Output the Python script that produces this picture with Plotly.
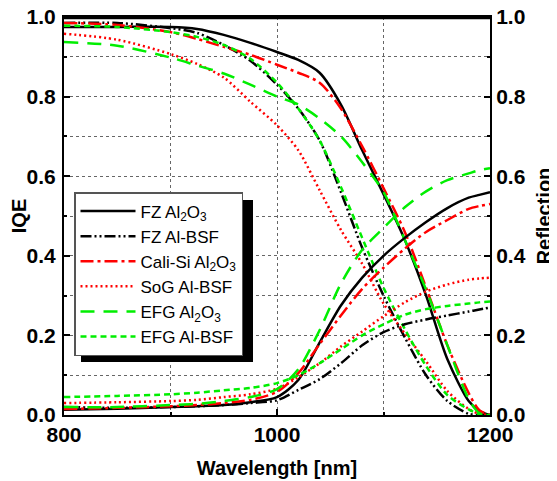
import plotly.graph_objects as go

# ---------------- data ----------------
wavelength = [800, 850, 900, 925, 950, 975, 1000, 1020, 1040, 1060, 1080,
              1100, 1120, 1140, 1160, 1180, 1190, 1200]

# IQE (left axis)
iqe_fz_al2o3 = [0.975, 0.975, 0.975, 0.970, 0.955, 0.935, 0.912, 0.892, 0.860,
                0.780, 0.665, 0.555, 0.440, 0.300, 0.140, 0.035, 0.010, 0.000]
iqe_fz_albsf = [0.985, 0.985, 0.972, 0.960, 0.930, 0.890, 0.830, 0.770, 0.690,
                0.560, 0.420, 0.300, 0.195, 0.100, 0.035, 0.003, 0.000, 0.000]
iqe_cali_al2o3 = [0.985, 0.980, 0.962, 0.945, 0.925, 0.905, 0.880, 0.860, 0.835,
                  0.770, 0.675, 0.570, 0.460, 0.320, 0.175, 0.055, 0.012, 0.000]
iqe_sog_albsf = [0.958, 0.943, 0.907, 0.882, 0.848, 0.787, 0.728, 0.665, 0.565,
                 0.465, 0.380, 0.280, 0.205, 0.135, 0.060, 0.015, 0.003, 0.000]
iqe_efg_al2o3 = [0.937, 0.928, 0.898, 0.878, 0.858, 0.830, 0.800, 0.780, 0.745,
                 0.700, 0.635, 0.560, 0.440, 0.315, 0.175, 0.040, 0.005, 0.000]
iqe_efg_albsf = [0.978, 0.975, 0.962, 0.950, 0.930, 0.895, 0.835, 0.770, 0.690,
                 0.573, 0.445, 0.320, 0.216, 0.123, 0.050, 0.014, 0.002, 0.000]

# Reflection (right axis)
r_fz_al2o3 = [0.013, 0.016, 0.020, 0.022, 0.025, 0.032, 0.045, 0.088, 0.182,
              0.275, 0.345, 0.400, 0.445, 0.485, 0.520, 0.546, 0.553, 0.560]
r_fz_albsf = [0.020, 0.018, 0.020, 0.022, 0.025, 0.030, 0.037, 0.063, 0.090,
              0.130, 0.175, 0.208, 0.228, 0.240, 0.250, 0.260, 0.265, 0.270]
r_cali_al2o3 = [0.015, 0.018, 0.022, 0.025, 0.030, 0.038, 0.058, 0.105, 0.178,
                0.250, 0.317, 0.370, 0.418, 0.460, 0.490, 0.518, 0.525, 0.530]
r_sog_albsf = [0.030, 0.032, 0.035, 0.038, 0.045, 0.052, 0.066, 0.095, 0.130,
               0.172, 0.210, 0.248, 0.283, 0.310, 0.328, 0.340, 0.343, 0.345]
r_efg_al2o3 = [0.020, 0.020, 0.025, 0.028, 0.035, 0.045, 0.065, 0.115, 0.213,
               0.330, 0.415, 0.470, 0.522, 0.562, 0.590, 0.607, 0.615, 0.620]
r_efg_albsf = [0.045, 0.048, 0.052, 0.056, 0.062, 0.068, 0.080, 0.100, 0.130,
               0.165, 0.200, 0.228, 0.252, 0.266, 0.274, 0.280, 0.283, 0.285]

series_names = ["FZ Al<sub>2</sub>O<sub>3</sub>", "FZ Al-BSF",
                "Cali-Si Al<sub>2</sub>O<sub>3</sub>", "SoG Al-BSF",
                "EFG Al<sub>2</sub>O<sub>3</sub>", "EFG Al-BSF"]
# ----------------------------------------------------------------

styles = [
    dict(color="#000000", dash="solid"),
    dict(color="#000000", dash="11px,3px,2px,3px,2px,3px"),
    dict(color="#ff0000", dash="13px,4px,3px,4px"),
    dict(color="#ff0000", dash="2px,3px"),
    dict(color="#00ee00", dash="14px,9px"),
    dict(color="#00ee00", dash="6px,4px"),
]
iqe_sets = [iqe_fz_al2o3, iqe_fz_albsf, iqe_cali_al2o3, iqe_sog_albsf,
            iqe_efg_al2o3, iqe_efg_albsf]
r_sets = [r_fz_al2o3, r_fz_albsf, r_cali_al2o3, r_sog_albsf,
          r_efg_al2o3, r_efg_albsf]

fig = go.Figure()
for name, st, iqe, r in zip(series_names, styles, iqe_sets, r_sets):
    line = dict(color=st["color"], dash=st["dash"], width=2.5,
                shape="spline", smoothing=0.8)
    fig.add_trace(go.Scatter(x=wavelength, y=iqe, mode="lines", name=name,
                             legendgroup=name, line=line, yaxis="y"))
    fig.add_trace(go.Scatter(x=wavelength, y=r, mode="lines", name=name,
                             legendgroup=name, showlegend=False, line=line,
                             yaxis="y2"))

FONT = "Arial, Liberation Sans, sans-serif"
tickfont = dict(family=FONT, size=21, color="black", weight="bold")
titlefont = dict(family=FONT, size=20, color="black", weight="bold")

# page has an 8 px body margin, so the figure is drawn 8 px in
OFF = 8
W, H = 557 - OFF, 481 - OFF
L, T = 64 - OFF, 17 - OFF
pw, ph = 426, 398
R, B = W - L - pw, H - T - ph


def px2paper(x, y):
    # x, y in page pixels
    return (x - OFF - L) / pw, (T + ph - (y - OFF)) / ph


sx0, sy1 = px2paper(81, 200)
sx1, sy0 = px2paper(253, 362)
lx, ly = px2paper(74, 192)
_, top_y = px2paper(0, 18)

fig.update_layout(
    width=W, height=H,
    margin=dict(l=L, r=R, t=T, b=B, pad=0, autoexpand=False),
    paper_bgcolor="white", plot_bgcolor="white",
    font=dict(family=FONT, color="black"),
    xaxis=dict(
        range=[800, 1200], dtick=200, tick0=800, automargin=False,
        showline=True, linecolor="black", linewidth=2, mirror=True,
        ticks="inside", ticklen=6, tickwidth=1.5, tickcolor="black",
        showgrid=True, gridcolor="#666666", griddash="dot", gridwidth=1,
        minor=dict(dtick=100, ticks="inside", ticklen=3, tickcolor="black",
                   showgrid=True, gridcolor="#666666", griddash="dot"),
        tickfont=tickfont, zeroline=False, ticklabeloverflow="allow",
        title=dict(text="Wavelength [nm]", font=titlefont, standoff=16),
    ),
    yaxis=dict(
        range=[0, 1], dtick=0.2, tick0=0, tickformat=".1f", automargin=False,
        showline=True, linecolor="black", linewidth=2,
        ticks="inside", ticklen=6, tickwidth=1.5, tickcolor="black",
        showgrid=True, gridcolor="#666666", griddash="dot", gridwidth=1,
        minor=dict(dtick=0.1, ticks="inside", ticklen=3, tickcolor="black",
                   showgrid=True, gridcolor="#666666", griddash="dot"),
        tickfont=tickfont, zeroline=False, ticklabelstandoff=2,
        ticklabeloverflow="allow",
        title=dict(text="IQE", font=titlefont, standoff=0),
    ),
    yaxis2=dict(
        range=[0, 1], dtick=0.2, tick0=0, tickformat=".1f", automargin=False,
        overlaying="y", side="right",
        showline=True, linecolor="black", linewidth=2,
        ticks="inside", ticklen=6, tickwidth=1.5, tickcolor="black",
        minor=dict(dtick=0.1, ticks="inside", ticklen=3, tickcolor="black"),
        showgrid=False, zeroline=False, tickfont=tickfont,
        ticklabeloverflow="allow",
        title=dict(text="Reflection", font=titlefont, standoff=12),
    ),
    legend=dict(
        x=lx, y=ly, xanchor="left", yanchor="top",
        bgcolor="white", bordercolor="#555555", borderwidth=1.5,
        font=dict(family=FONT, size=17, color="black"),
        itemwidth=55, tracegroupgap=0,
    ),
    shapes=[
        dict(type="rect", xref="paper", yref="paper",
             x0=sx0, x1=sx1, y0=sy0, y1=sy1,
             fillcolor="black", line=dict(width=0), layer="above"),
        # plot frame (top edge)
        dict(type="line", xref="paper", yref="paper",
             x0=0, x1=1, y0=top_y, y1=top_y,
             line=dict(color="black", width=2.5), layer="above"),
    ],
)

fig.write_html("out.html", config={"displayModeBar": False})
